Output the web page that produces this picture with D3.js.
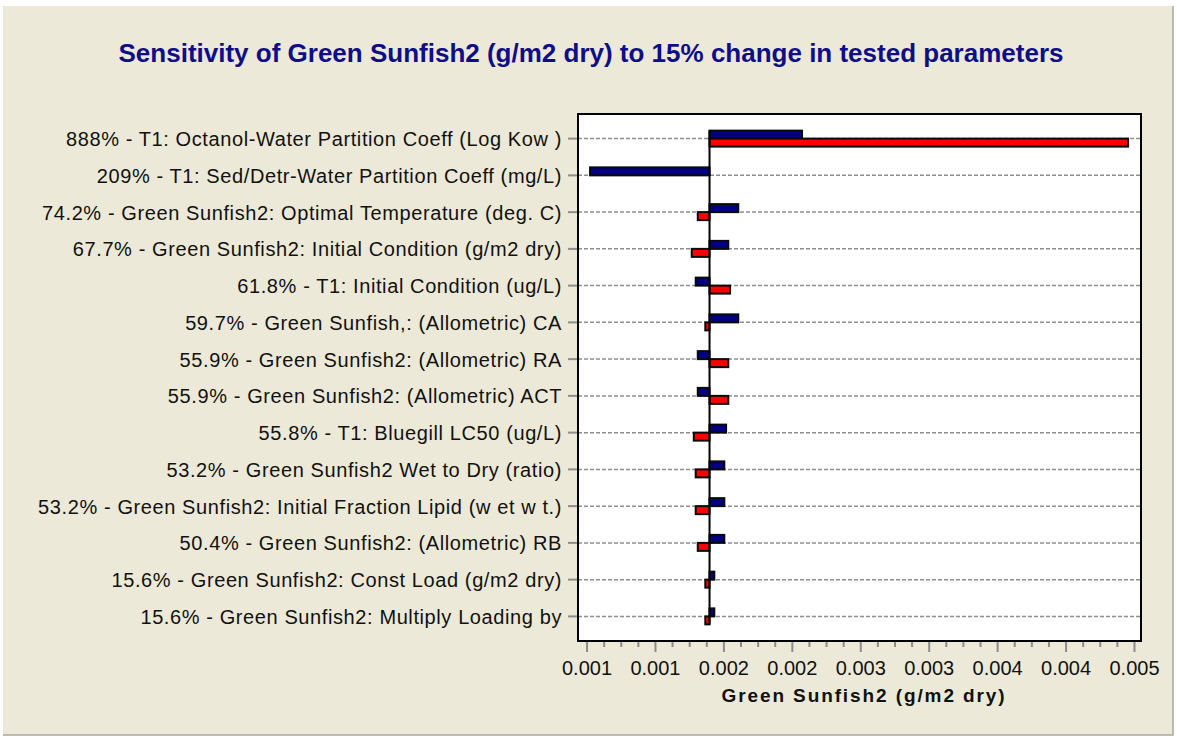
<!DOCTYPE html>
<html>
<head>
<meta charset="utf-8">
<script src="https://cdn.jsdelivr.net/npm/d3@7"></script>
<style>
  body { margin: 0; background: #ffffff; }
  text { font-family: "Liberation Sans", Arial, sans-serif; }
</style>
</head>
<body>
<div class="visualize"></div>
<script>
// parameter labels, top to bottom
let paramLabels = [
  "888% - T1: Octanol-Water Partition Coeff (Log Kow )",
  "209% - T1: Sed/Detr-Water Partition Coeff (mg/L)",
  "74.2% - Green Sunfish2: Optimal Temperature (deg. C)",
  "67.7% - Green Sunfish2: Initial Condition (g/m2 dry)",
  "61.8% - T1: Initial Condition (ug/L)",
  "59.7% - Green Sunfish,: (Allometric) CA",
  "55.9% - Green Sunfish2: (Allometric) RA",
  "55.9% - Green Sunfish2: (Allometric) ACT",
  "55.8% - T1: Bluegill LC50 (ug/L)",
  "53.2% - Green Sunfish2 Wet to Dry (ratio)",
  "53.2% - Green Sunfish2: Initial Fraction Lipid (w et w t.)",
  "50.4% - Green Sunfish2: (Allometric) RB",
  "15.6% - Green Sunfish2: Const Load (g/m2 dry)",
  "15.6% - Green Sunfish2: Multiply Loading by"
];

// result with the blue (upper) bar and the red (lower) bar
let blueVals = [0.002571, 0.001022, 0.002105, 0.002032, 0.001794, 0.002105, 0.001809,
                0.001809, 0.002016, 0.002003, 0.002003, 0.002003, 0.00193, 0.00193];
let redVals  = [0.004953, 0.001895, 0.001809, 0.001765, 0.002045, 0.001864, 0.002032,
                0.002032, 0.00178, 0.001794, 0.001794, 0.001809, 0.001864, 0.001864];
let baseVal = 0.001895;

// axis
let xDomain = [0.000934, 0.0050475];
let majorTicks = [0.001, 0.0015, 0.002, 0.0025, 0.003, 0.0035, 0.004, 0.0045, 0.005];
let tickLabels = ["0.001", "0.001", "0.002", "0.002", "0.003", "0.003", "0.004", "0.004", "0.005"];
let minorTicks = [];
for (let i = 0; i < majorTicks.length - 1; i++) {
  for (let k = 1; k <= 3; k++) minorTicks.push(majorTicks[i] + k * 0.000125);
}

let w = 1177;
let h = 738;
let plot = { left: 578, right: 1141, top: 114, bottom: 641 };

var svg = d3.select(".visualize")
  .append("svg")
  .attr("width", w)
  .attr("height", h);

// panel background
svg.append("rect")
  .attr("x", 3).attr("y", 6)
  .attr("width", 1170).attr("height", 729)
  .attr("fill", "#ece9d8");
svg.append("path")
  .attr("d", "M1173,6 V735 H3")
  .attr("fill", "none")
  .attr("stroke", "#a9a8a0")
  .attr("stroke-width", 1.5);

// title
svg.append("text")
  .attr("x", 591)
  .attr("y", 62)
  .attr("text-anchor", "middle")
  .attr("font-size", "26px")
  .attr("font-weight", "bold")
  .attr("fill", "#0e0e88")
  .text("Sensitivity of Green Sunfish2 (g/m2 dry) to 15% change in tested parameters");

var x = d3.scaleLinear().domain(xDomain).range([plot.left, plot.right]);
var y = d3.scalePoint().domain(paramLabels).range([plot.top, plot.bottom]).padding(0.67);

// plot area
svg.append("rect")
  .attr("x", plot.left).attr("y", plot.top)
  .attr("width", plot.right - plot.left)
  .attr("height", plot.bottom - plot.top)
  .attr("fill", "#ffffff");

// grid lines + y ticks
svg.selectAll(".grid")
  .data(paramLabels)
  .enter()
  .append("line")
  .attr("x1", plot.left).attr("x2", plot.right)
  .attr("y1", d => y(d)).attr("y2", d => y(d))
  .attr("stroke", "#8e8e8e")
  .attr("stroke-width", 1.5)
  .attr("stroke-dasharray", "4,2");

svg.selectAll(".ytick")
  .data(paramLabels)
  .enter()
  .append("line")
  .attr("x1", plot.left - 10).attr("x2", plot.left)
  .attr("y1", d => y(d)).attr("y2", d => y(d))
  .attr("stroke", "#8c8c8c")
  .attr("stroke-width", 2);

svg.selectAll(".ylabel")
  .data(paramLabels)
  .enter()
  .append("text")
  .attr("x", plot.left - 16)
  .attr("y", d => y(d) + 7.5)
  .attr("text-anchor", "end")
  .attr("font-size", "20px")
  .attr("letter-spacing", "0.6px")
  .attr("fill", "#111")
  .text(d => d);

// bars
let barH = 8;
svg.selectAll(".blue")
  .data(blueVals)
  .enter()
  .append("rect")
  .attr("x", d => x(Math.min(d, baseVal)))
  .attr("y", (d, i) => y(paramLabels[i]) - barH)
  .attr("width", d => Math.abs(x(d) - x(baseVal)))
  .attr("height", barH)
  .attr("fill", "#000080")
  .attr("stroke", "#0a0a0a")
  .attr("stroke-width", 2);

svg.selectAll(".red")
  .data(redVals)
  .enter()
  .append("rect")
  .attr("x", d => x(Math.min(d, baseVal)))
  .attr("y", (d, i) => y(paramLabels[i]))
  .attr("width", d => Math.abs(x(d) - x(baseVal)))
  .attr("height", barH)
  .attr("fill", "#ff0000")
  .attr("stroke", "#0a0a0a")
  .attr("stroke-width", 2)
  .attr("display", d => d == baseVal ? "none" : null);

// base line
svg.append("line")
  .attr("x1", x(baseVal)).attr("x2", x(baseVal))
  .attr("y1", y(paramLabels[0]) - barH)
  .attr("y2", y(paramLabels[paramLabels.length - 1]) + barH)
  .attr("stroke", "#000")
  .attr("stroke-width", 2);

// plot border
svg.append("rect")
  .attr("x", plot.left).attr("y", plot.top)
  .attr("width", plot.right - plot.left)
  .attr("height", plot.bottom - plot.top)
  .attr("fill", "none")
  .attr("stroke", "#000")
  .attr("stroke-width", 2);

// x ticks
svg.selectAll(".xminor")
  .data(minorTicks)
  .enter()
  .append("line")
  .attr("x1", d => x(d)).attr("x2", d => x(d))
  .attr("y1", plot.bottom + 1).attr("y2", plot.bottom + 6)
  .attr("stroke", "#8c8c8c")
  .attr("stroke-width", 2);

svg.selectAll(".xmajor")
  .data(majorTicks)
  .enter()
  .append("line")
  .attr("x1", d => x(d)).attr("x2", d => x(d))
  .attr("y1", plot.bottom + 1).attr("y2", plot.bottom + 11)
  .attr("stroke", "#8c8c8c")
  .attr("stroke-width", 2);

svg.selectAll(".xlabel")
  .data(majorTicks)
  .enter()
  .append("text")
  .attr("x", d => x(d))
  .attr("y", plot.bottom + 34)
  .attr("text-anchor", "middle")
  .attr("font-size", "20px")
  .attr("fill", "#111")
  .text((d, i) => tickLabels[i]);

svg.append("text")
  .attr("x", 864)
  .attr("y", 702)
  .attr("text-anchor", "middle")
  .attr("font-size", "19px")
  .attr("font-weight", "bold")
  .attr("letter-spacing", "1.9px")
  .attr("fill", "#111")
  .text("Green Sunfish2 (g/m2 dry)");
</script>
</body>
</html>
